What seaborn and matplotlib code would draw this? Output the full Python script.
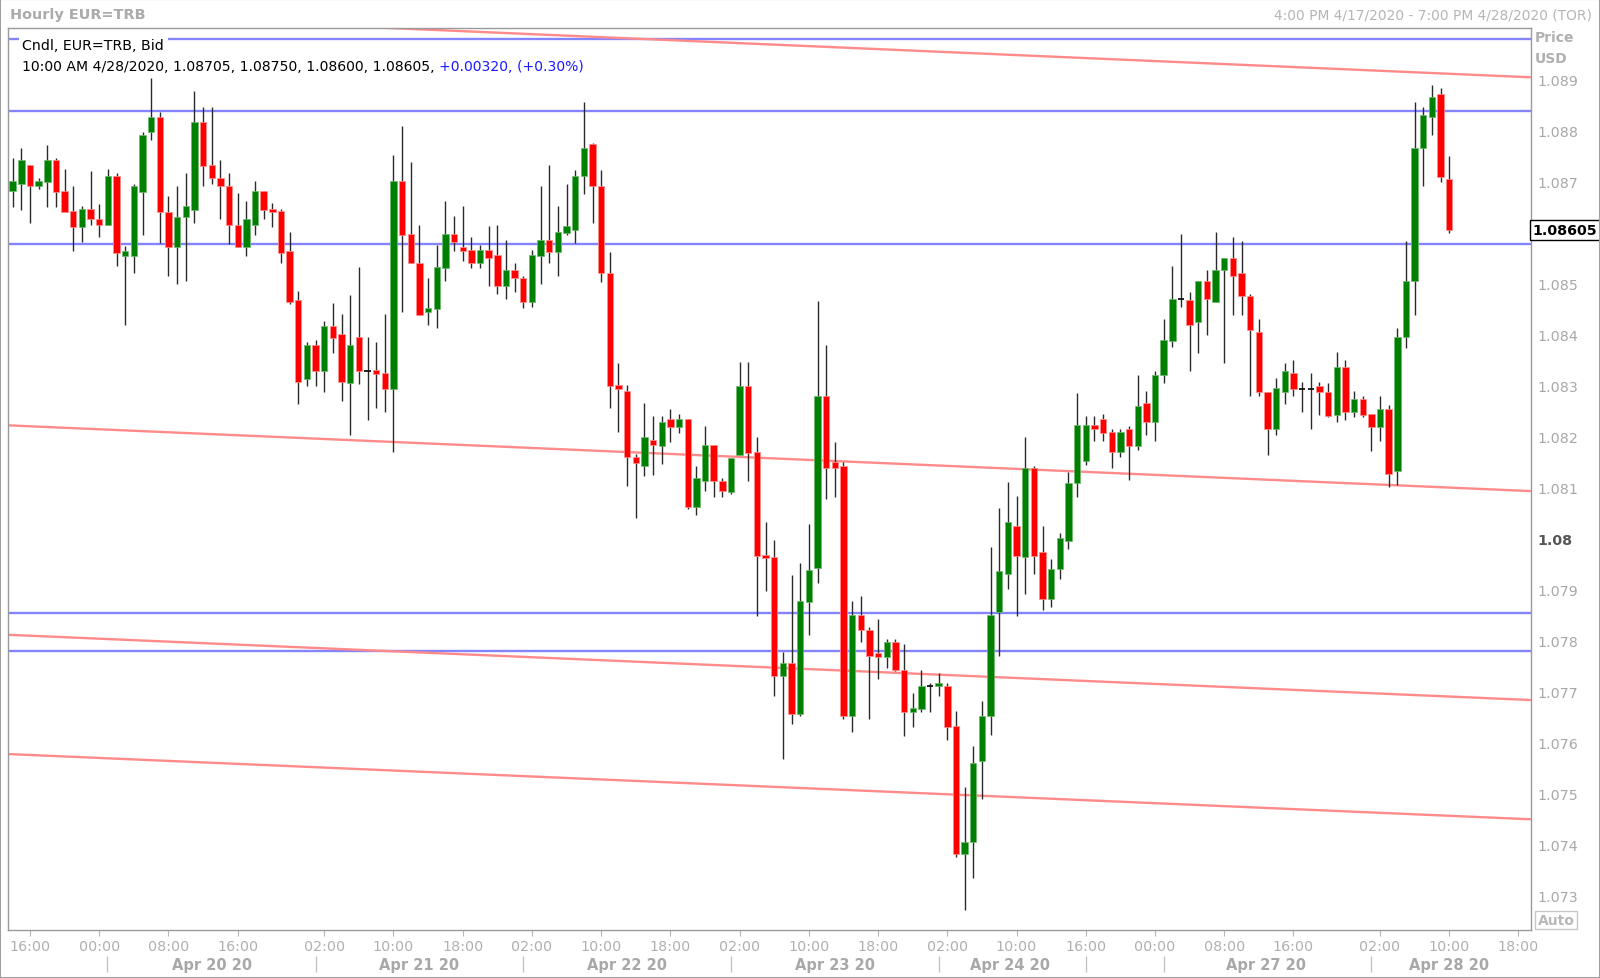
import numpy as np
import pandas as pd
import matplotlib
matplotlib.use("Agg")
import matplotlib.pyplot as plt
import seaborn as sns
from matplotlib.patches import Rectangle

# ---------------- data ----------------
opens = [1.08681,1.08695,1.08732,1.08691,1.08700,1.08743,1.08681,1.08642,1.08611,1.08646,
         1.08627,1.08615,1.08711,1.08555,1.08555,1.08679,1.08797,1.08827,1.08641,1.08571,
         1.08630,1.08645,1.08818,1.08732,1.08707,1.08692,1.08616,1.08571,1.08615,1.08681,
         1.08647,1.08642,1.08565,1.08467,1.08313,1.08380,1.08329,1.08416,1.08401,1.08305,
         1.08396,1.08329,1.08330,1.08325,1.08293,1.08702,1.08597,1.08541,1.08444,1.08450,
         1.08530,1.08597,1.08571,1.08566,1.08540,1.08566,1.08556,1.08496,1.08526,1.08511,
         1.08465,1.08555,1.08586,1.08562,1.08600,1.08605,1.08711,1.08774,1.08692,1.08520,
         1.08301,1.08289,1.08159,1.08143,1.08193,1.08182,1.08235,1.08219,1.08235,1.08062,
         1.08112,1.08184,1.08113,1.08092,1.08163,1.08300,1.08169,1.07968,1.07963,1.07731,
         1.07756,1.07656,1.07876,1.07942,1.08279,1.08151,1.08143,1.07651,1.07850,1.07821,
         1.07775,1.07767,1.07796,1.07741,1.07660,1.07666,1.07711,1.07711,1.07711,1.07632,
         1.07380,1.07404,1.07564,1.07651,1.07855,1.07930,1.08024,1.07963,1.08138,1.07973,
         1.07881,1.07940,1.07995,1.08108,1.08153,1.08223,1.08235,1.08208,1.08169,1.08214,
         1.08182,1.08265,1.08228,1.08321,1.08388,1.08470,1.08467,1.08424,1.08505,1.08465,
         1.08526,1.08550,1.08521,1.08475,1.08405,1.08288,1.08214,1.08288,1.08324,1.08293,
         1.08293,1.08300,1.08288,1.08243,1.08336,1.08248,1.08274,1.08244,1.08218,1.08255,
         1.08132,1.08395,1.08505,1.08766,1.08827,1.08872,1.08705]
highs = [1.08746,1.08767,1.08732,1.08707,1.08772,1.08746,1.08726,1.08692,1.08652,1.08722,
         1.08657,1.08726,1.08717,1.08573,1.08696,1.08797,1.08904,1.08836,1.08672,1.08692,
         1.08717,1.08878,1.08847,1.08847,1.08743,1.08717,1.08677,1.08662,1.08702,1.08681,
         1.08658,1.08647,1.08601,1.08485,1.08386,1.08390,1.08426,1.08462,1.08441,1.08477,
         1.08532,1.08396,1.08386,1.08441,1.08753,1.08809,1.08738,1.08616,1.08511,1.08576,
         1.08663,1.08632,1.08652,1.08592,1.08576,1.08613,1.08616,1.08586,1.08541,1.08516,
         1.08566,1.08692,1.08732,1.08652,1.08696,1.08724,1.08857,1.08777,1.08723,1.08562,
         1.08345,1.08301,1.08166,1.08265,1.08240,1.08240,1.08255,1.08244,1.08235,1.08143,
         1.08220,1.08184,1.08118,1.08158,1.08346,1.08346,1.08199,1.08033,1.07997,1.07777,
         1.07928,1.07952,1.08029,1.08466,1.08380,1.08190,1.08151,1.07877,1.07887,1.07827,
         1.07842,1.07803,1.07803,1.07792,1.07697,1.07741,1.07716,1.07737,1.07716,1.07661,
         1.07512,1.07592,1.07682,1.07983,1.08059,1.08110,1.08084,1.08199,1.08143,1.08024,
         1.07960,1.08010,1.08130,1.08286,1.08240,1.08240,1.08244,1.08214,1.08214,1.08220,
         1.08321,1.08289,1.08329,1.08431,1.08535,1.08598,1.08484,1.08505,1.08526,1.08601,
         1.08550,1.08591,1.08584,1.08480,1.08431,1.08288,1.08314,1.08344,1.08350,1.08308,
         1.08325,1.08307,1.08305,1.08365,1.08351,1.08289,1.08279,1.08244,1.08279,1.08261,
         1.08414,1.08583,1.08856,1.08846,1.08889,1.08884,1.08750]
lows = [1.08651,1.08645,1.08620,1.08686,1.08650,1.08650,1.08640,1.08564,1.08581,1.08615,
        1.08591,1.08615,1.08534,1.08418,1.08520,1.08596,1.08781,1.08580,1.08516,1.08500,
        1.08505,1.08620,1.08691,1.08695,1.08626,1.08578,1.08571,1.08555,1.08596,1.08627,
        1.08611,1.08540,1.08460,1.08263,1.08299,1.08299,1.08288,1.08363,1.08269,1.08204,
        1.08303,1.08233,1.08257,1.08249,1.08169,1.08445,1.08540,1.08439,1.08419,1.08414,
        1.08505,1.08564,1.08545,1.08530,1.08530,1.08495,1.08480,1.08469,1.08483,1.08453,
        1.08454,1.08499,1.08541,1.08516,1.08596,1.08580,1.08676,1.08620,1.08504,1.08257,
        1.08208,1.08102,1.08040,1.08123,1.08125,1.08146,1.08189,1.08207,1.08058,1.08046,
        1.08094,1.08082,1.08082,1.08087,1.08163,1.08112,1.07847,1.07896,1.07690,1.07567,
        1.07635,1.07651,1.07810,1.07912,1.08078,1.08081,1.07646,1.07621,1.07796,1.07645,
        1.07724,1.07745,1.07739,1.07613,1.07630,1.07660,1.07660,1.07690,1.07605,1.07374,
        1.07270,1.07333,1.07489,1.07614,1.07770,1.07901,1.07847,1.07891,1.07930,1.07860,
        1.07865,1.07920,1.07980,1.08081,1.08145,1.08192,1.08192,1.08138,1.08159,1.08114,
        1.08174,1.08203,1.08192,1.08305,1.08375,1.08454,1.08329,1.08364,1.08399,1.08465,
        1.08344,1.08439,1.08439,1.08279,1.08280,1.08163,1.08203,1.08264,1.08279,1.08249,
        1.08214,1.08243,1.08239,1.08228,1.08233,1.08239,1.08239,1.08172,1.08192,1.08101,
        1.08104,1.08374,1.08439,1.08691,1.08792,1.08700,1.08600]
closes = [1.08701,1.08743,1.08692,1.08701,1.08743,1.08680,1.08640,1.08611,1.08646,1.08626,
          1.08615,1.08711,1.08561,1.08565,1.08692,1.08792,1.08827,1.08641,1.08571,1.08631,
          1.08652,1.08818,1.08730,1.08707,1.08691,1.08615,1.08571,1.08627,1.08681,1.08645,
          1.08641,1.08560,1.08465,1.08308,1.08380,1.08329,1.08416,1.08394,1.08308,1.08380,
          1.08329,1.08329,1.08323,1.08293,1.08702,1.08596,1.08540,1.08439,1.08452,1.08532,
          1.08597,1.08581,1.08564,1.08540,1.08566,1.08550,1.08496,1.08526,1.08511,1.08465,
          1.08556,1.08586,1.08562,1.08601,1.08613,1.08711,1.08767,1.08691,1.08520,1.08300,
          1.08293,1.08159,1.08148,1.08199,1.08184,1.08229,1.08219,1.08235,1.08061,1.08118,
          1.08184,1.08112,1.08094,1.08158,1.08300,1.08168,1.07966,1.07962,1.07731,1.07756,
          1.07656,1.07878,1.07938,1.08279,1.08138,1.08138,1.07651,1.07850,1.07821,1.07770,
          1.07767,1.07796,1.07741,1.07660,1.07667,1.07711,1.07711,1.07716,1.07630,1.07380,
          1.07404,1.07560,1.07651,1.07850,1.07937,1.08033,1.07966,1.08138,1.07966,1.07881,
          1.07941,1.08000,1.08108,1.08223,1.08223,1.08214,1.08207,1.08169,1.08208,1.08182,
          1.08259,1.08228,1.08321,1.08390,1.08470,1.08470,1.08419,1.08505,1.08469,1.08526,
          1.08550,1.08516,1.08475,1.08410,1.08288,1.08214,1.08295,1.08329,1.08293,1.08293,
          1.08293,1.08288,1.08241,1.08336,1.08248,1.08274,1.08242,1.08218,1.08255,1.08127,
          1.08395,1.08505,1.08766,1.08831,1.08867,1.08709,1.08605]

time_tick_pos = [2, 10, 18, 26, 36, 44, 52, 60, 68, 76, 84, 92, 100, 108, 116, 124, 132, 140, 148, 158, 166, 174]
time_tick_labels = ["16:00", "00:00", "08:00", "16:00", "02:00", "10:00", "18:00", "02:00", "10:00", "18:00",
                    "02:00", "10:00", "18:00", "02:00", "10:00", "16:00", "00:00", "08:00", "16:00", "02:00",
                    "10:00", "18:00"]
date_labels = ["Apr 20 20", "Apr 21 20", "Apr 22 20", "Apr 23 20", "Apr 24 20", "Apr 27 20", "Apr 28 20"]
date_label_pos = [23, 47, 71, 95, 115.3, 144.8, 166]
date_separators = [10.9, 35, 59, 83, 107, 124, 133, 157]

price_ticks = [1.073, 1.074, 1.075, 1.076, 1.077, 1.078, 1.079, 1.080, 1.081, 1.082, 1.083, 1.084, 1.085, 1.087, 1.088, 1.089]
price_tick_labels = ["1.073", "1.074", "1.075", "1.076", "1.077", "1.078", "1.079", "1.08", "1.081", "1.082",
                     "1.083", "1.084", "1.085", "1.087", "1.088", "1.089"]

support_levels = [1.089810, 1.088385, 1.085781, 1.078532, 1.077790]
channel_starts = [1.09034, 1.08222, 1.07811, 1.07577]   # at bar -0.52
channel_ends = [1.08905, 1.08093, 1.07683, 1.07449]     # at bar 175.4

last_price = 1.08605
info_line = "10:00 AM 4/28/2020, 1.08705, 1.08750, 1.08600, 1.08605, "
info_change = "+0.00320, (+0.30%)"

# ---------------- style ----------------
sns.set_theme(style="white")
plt.rcParams['font.family'] = ['DejaVu Sans']

W, H = 1600, 979
fig = plt.figure(figsize=(W / 100, H / 100), dpi=100)
left, right, top, bottom = 8.2, 1530.6, 28.6, 930.6
ax = fig.add_axes([left / W, 1 - bottom / H, (right - left) / W, (bottom - top) / H])
ax.set_facecolor("white")

xlo, xhi = -0.52, 175.4
ax.set_xlim(xlo, xhi)
ax.set_ylim(1.072325, 1.090025)

for s in ax.spines.values():
    s.set_color("#9a9a9a")
    s.set_linewidth(1.0)

# support lines
for lvl in support_levels:
    ax.axhline(lvl, color="#8484ff", lw=1.7, zorder=1)

# channel lines via seaborn
for ys, ye in zip(channel_starts, channel_ends):
    df = pd.DataFrame({"bar": [xlo, xhi], "price": [ys, ye]})
    sns.lineplot(data=df, x="bar", y="price", ax=ax, color="#ff8a8a", lw=1.7, zorder=1, legend=False)

# candles
n = len(opens)
x = np.arange(n)
o = np.array(opens); h = np.array(highs); l = np.array(lows); c = np.array(closes)
ax.vlines(x, l, h, color="#2a2a2a", lw=1.0, zorder=2)
up = c > o
dn = c < o
eq = c == o
bw = 0.74
ax.bar(x[up], (c - o)[up], bottom=o[up], width=bw, color="#008000", edgecolor="#6fb86f", lw=0.5, zorder=3)
ax.bar(x[dn], (o - c)[dn], bottom=c[dn], width=bw, color="#ff0000", edgecolor="#ff8c8c", lw=0.5, zorder=3)
ax.hlines(c[eq], x[eq] - bw / 2, x[eq] + bw / 2, color="#111111", lw=1.3, zorder=3)

# x axis
ax.set_xticks(time_tick_pos)
ax.set_xticklabels(time_tick_labels)
ax.tick_params(axis="x", bottom=True, length=4, width=0.8, color="#b8b8b8", labelcolor="#b0b0b0",
               labelsize=10.3, pad=2.5)
trans = ax.get_xaxis_transform()
for xp, lab in zip(date_label_pos, date_labels):
    ax.text(xp, -0.0385, lab, transform=trans, ha="center", va="center", fontsize=10.5,
            fontweight="bold", color="#a8a8a8", clip_on=False)
ax.vlines(date_separators, -0.047, -0.029, transform=trans, color="#c0c0c0", lw=0.9, clip_on=False)

# y axis on right
ax.yaxis.tick_right()
ax.set_yticks(price_ticks)
ax.set_yticklabels(price_tick_labels)
ax.tick_params(axis="y", right=False, left=False, length=0, pad=5, labelsize=10.3, labelcolor="#a8a8a8")
for t in ax.get_yticklabels():
    if t.get_text() == "1.08":
        t.set_fontweight("bold")
        t.set_color("#555555")
ax.set_xlabel(""); ax.set_ylabel("")

# last price box
ax.text(1.0012, last_price, "1.08605", transform=ax.get_yaxis_transform(), ha="left", va="center",
        fontsize=10.3, fontweight="bold", color="black", clip_on=False,
        bbox=dict(boxstyle="square,pad=0.2", fc="white", ec="black", lw=1.0))

# Price / USD / Auto
fig.text(1535 / W, 1 - 37.8 / H, "Price", ha="left", va="center", fontsize=10, fontweight="bold", color="#b0b0b0")
fig.text(1535 / W, 1 - 59.2 / H, "USD", ha="left", va="center", fontsize=10, fontweight="bold", color="#b0b0b0")
fig.text(1556 / W, 1 - 921 / H, "Auto", ha="center", va="center", fontsize=10, fontweight="bold", color="#b8b8b8",
         bbox=dict(boxstyle="square,pad=0.15", fc="white", ec="#c8c8c8", lw=1.0))

# header
fig.text(10 / W, 1 - 15.3 / H, "Hourly EUR=TRB", ha="left", va="center", fontsize=10.4, fontweight="bold", color="#ababab")
fig.text(1592 / W, 1 - 15.3 / H, "4:00 PM 4/17/2020 - 7:00 PM 4/28/2020 (TOR)", ha="right", va="center",
         fontsize=9.9, color="#b5b5b5")

# legend-like info
t1 = ax.text(0.0093, 0.9808, "Cndl, EUR=TRB, Bid", transform=ax.transAxes, ha="left", va="center",
             fontsize=10.2, color="black", zorder=6,
             bbox=dict(boxstyle="square,pad=0.25", fc="white", ec="none"))
t2 = ax.text(0.0093, 0.9571, info_line, transform=ax.transAxes, ha="left", va="center",
             fontsize=10.1, color="black", zorder=6)
ax.annotate(info_change, xy=(1, 0.5), xycoords=t2, ha="left", va="center", fontsize=10.1,
            color="#1a1aff", zorder=6)

# outer frame
fig.patches.append(Rectangle((0, 0), 1, 1, transform=fig.transFigure, fill=False, ec="#a0a0a0", lw=1.5))

fig.savefig("out.png", dpi=100, facecolor="white")
